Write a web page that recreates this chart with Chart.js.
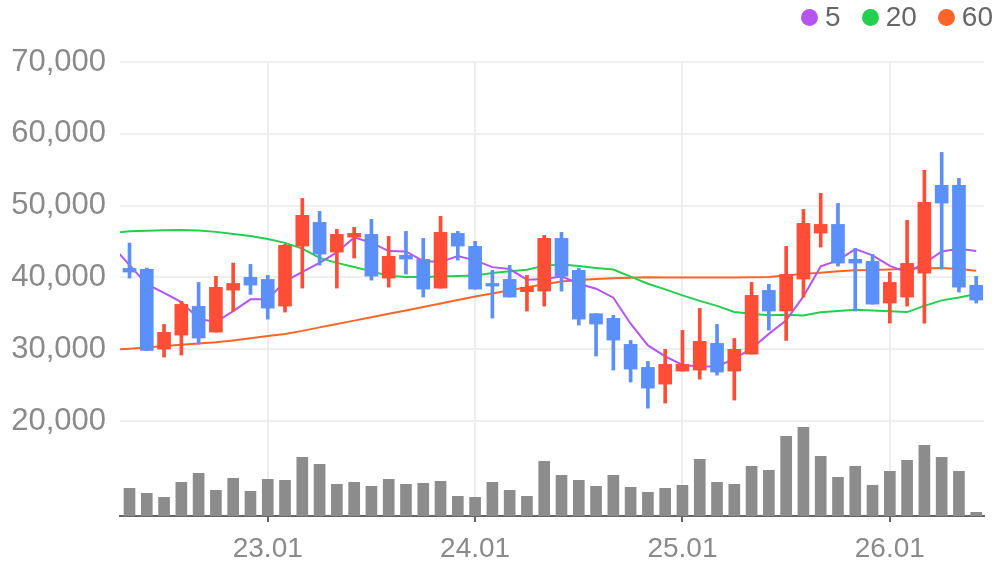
<!DOCTYPE html>
<html>
<head>
<meta charset="utf-8">
<script src="https://cdn.jsdelivr.net/npm/chart.js@4.4.1/dist/chart.umd.min.js"></script>
<style>
  html, body { margin: 0; background: #fff; }
  #wrap { position: relative; width: 996px; height: 567px; }
  #legend { position: absolute; top: 0; right: 3px; height: 34px; display: flex; align-items: center;
            font: 28px "Liberation Sans", Arial, sans-serif; color: #666; }
  #legend .item { display: flex; align-items: center; margin-left: 21px; }
  #legend .dot { width: 17px; height: 17px; border-radius: 50%; margin-right: 7px; }
</style>
</head>
<body>
<div id="wrap">
  <canvas id="chart"></canvas>
  <div id="legend"></div>
</div>
<script>
// monthly candles, 22.05 .. 26.06
const months = [
  '22.05','22.06','22.07','22.08','22.09','22.10','22.11','22.12',
  '23.01','23.02','23.03','23.04','23.05','23.06','23.07','23.08','23.09','23.10','23.11','23.12',
  '24.01','24.02','24.03','24.04','24.05','24.06','24.07','24.08','24.09','24.10','24.11','24.12',
  '25.01','25.02','25.03','25.04','25.05','25.06','25.07','25.08','25.09','25.10','25.11','25.12',
  '26.01','26.02','26.03','26.04','26.05','26.06'
];
const opens  = [41250,41110,30010,31960,35960,32380,38230,40000,39720,36000,44360,47660,43520,45610,45990,39900,43070,42510,38510,46130,44320,39160,39720,38010,38090,45430,40980,34940,34290,30670,27460,25140,26950,27090,30810,26950,29320,38190,35310,39760,46170,47380,42510,42230,36420,37260,40600,52820,52820,38890];
const highs  = [44780,41300,33450,36660,39300,40140,41990,41810,40280,44600,51000,49190,46690,46970,48080,45710,46410,45430,48500,46410,45020,40980,41670,40280,45850,46270,41250,34940,34710,31220,28300,29970,32620,35680,33450,31500,39300,39030,44320,49470,51700,50310,44040,43200,40700,47940,54900,57410,53790,40140];
const lows   = [39900,29800,28900,29180,30710,32380,35310,37630,34190,35170,38510,41710,38510,42690,39620,38650,40460,37260,38510,42410,38370,34330,37260,35310,36000,38090,33360,29040,27090,25420,21790,22490,26950,25830,26390,22910,29320,32660,31220,37260,44220,41570,35310,36280,33630,36000,33630,41160,37950,36420];
const closes = [40740,29830,32340,36240,31550,38610,39160,38930,35720,44460,48640,43250,45990,46130,40180,42930,42550,38370,46270,44360,38370,38790,37260,38610,45430,40180,34190,33500,31270,27230,24580,27880,27880,31090,26810,29970,37490,35310,40420,47520,47380,41990,41990,36280,39300,41950,50450,50350,38650,36840];
const volumes = [2770,2270,1870,3370,4270,2570,3770,2470,3670,3570,5870,5170,3170,3370,2970,3670,3170,3270,3470,1970,1870,3370,2570,1970,5470,4070,3570,2970,4070,2870,2370,2770,3070,5670,3370,3170,4970,4570,7970,8870,5970,3870,4970,3070,4470,5570,7070,5870,4470,370];

// moving averages; first value is the month before the first candle (22.04)
const ma5  = [44370,41710,39070,37840,36560,34250,33770,35310,36940,36940,39440,40770,42020,43480,45570,44830,43660,43620,42270,42130,42970,42370,41430,41160,39680,39760,40140,39120,38430,37170,33550,30530,29000,27810,27600,27600,28650,30110,32130,34010,37350,41530,42370,43940,43060,41600,40700,41950,43620,44000,43690];
const ma20 = [46200,46410,46480,46550,46590,46520,46340,46060,45780,45360,44810,44000,42720,42020,41460,40840,40240,40070,40070,40140,40210,40280,40600,40840,41070,41640,41780,41600,41320,41090,40110,39120,38330,37490,36730,36030,35190,34920,34730,34780,34710,35150,35330,35500,35400,35290,35170,36030,36800,37210,37700];
const ma60 = [29900,30070,30250,30430,30610,30790,30960,31220,31530,31840,32130,32550,33040,33510,33980,34460,34930,35400,35890,36360,36840,37330,37770,38200,38620,39030,39430,39650,39780,39870,39960,40030,40000,40000,39970,39970,40000,40030,40040,40280,40490,40650,40840,40980,41040,41110,41210,41280,41300,41180,40910];

const priceTicks = [20000, 30000, 40000, 50000, 60000, 70000];
const seriesNames = ['5', '20', '60'];
const lineColors = ['#b455f2', '#22cf4e', '#ff6428'];
const UP = '#ff4d36', DOWN = '#5b8ff9';

const candleColors = months.map((m, i) => closes[i] >= opens[i] ? UP : DOWN);
const maPoints = arr => arr.map((v, i) => ({ x: i - 1, y: v }));
const fontFamily = '"Liberation Sans", Arial, sans-serif';

const lineSet = (arr, k) => ({
  type: 'line', label: seriesNames[k], data: maPoints(arr),
  borderColor: lineColors[k], borderWidth: 2, pointRadius: 0, tension: 0,
  yAxisID: 'y', order: 5
});

new Chart(document.getElementById('chart'), {
  type: 'bar',
  data: {
    datasets: [
      lineSet(ma5, 0), lineSet(ma20, 1), lineSet(ma60, 2),
      { label: 'wick', data: months.map((m, i) => ({ x: i, y: [lows[i], highs[i]] })),
        backgroundColor: candleColors, barThickness: 3, grouped: false, yAxisID: 'y', order: 2 },
      { label: 'body', data: months.map((m, i) => ({ x: i, y: [opens[i], closes[i]] })),
        backgroundColor: candleColors, barThickness: 13, grouped: false, yAxisID: 'y', order: 1 },
      { label: 'volume', data: months.map((m, i) => ({ x: i, y: volumes[i] })),
        backgroundColor: '#8c8c8c', barThickness: 11, grouped: false, yAxisID: 'yv', order: 3 }
    ]
  },
  options: {
    responsive: true,
    maintainAspectRatio: false,
    animation: false,
    layout: { padding: { top: 62, left: 0, right: 12, bottom: 0 } },
    plugins: { legend: { display: false }, tooltip: { enabled: false } },
    scales: {
      x: {
        type: 'linear', min: -0.55, max: 49.45, offset: false,
        afterBuildTicks: s => {
          s.ticks = months.map((m, i) => ({ value: i })).filter(t => months[t.value].endsWith('.01'));
        },
        afterFit: s => { s.height = 51; },
        ticks: { callback: v => months[v], font: { family: fontFamily, size: 28 }, color: '#8a8a8a',
                 padding: 10, maxRotation: 0, autoSkip: false },
        grid: { offset: false, color: '#eeeeee', lineWidth: 2, tickColor: '#666', tickLength: 6 },
        border: { display: true, color: '#666', width: 2 }
      },
      y: {
        position: 'left', min: 6767, max: 70000,
        afterBuildTicks: s => { s.ticks = priceTicks.map(v => ({ value: v })); },
        afterFit: s => { s.width = 120; },
        ticks: { font: { family: fontFamily, size: 31 }, color: '#8a8a8a', padding: 14,
                 callback: v => v.toLocaleString('en-US') },
        grid: { drawTicks: false, lineWidth: 2, color: '#efefef' },
        border: { display: false }
      },
      yv: { display: false, min: 0, max: 45400 }
    }
  }
});

// legend for the moving averages
const legend = document.getElementById('legend');
seriesNames.forEach((name, k) => {
  const item = document.createElement('span');
  item.className = 'item';
  item.innerHTML = '<span class="dot" style="background:' + lineColors[k] + '"></span>' + name;
  legend.appendChild(item);
});
</script>
</body>
</html>
